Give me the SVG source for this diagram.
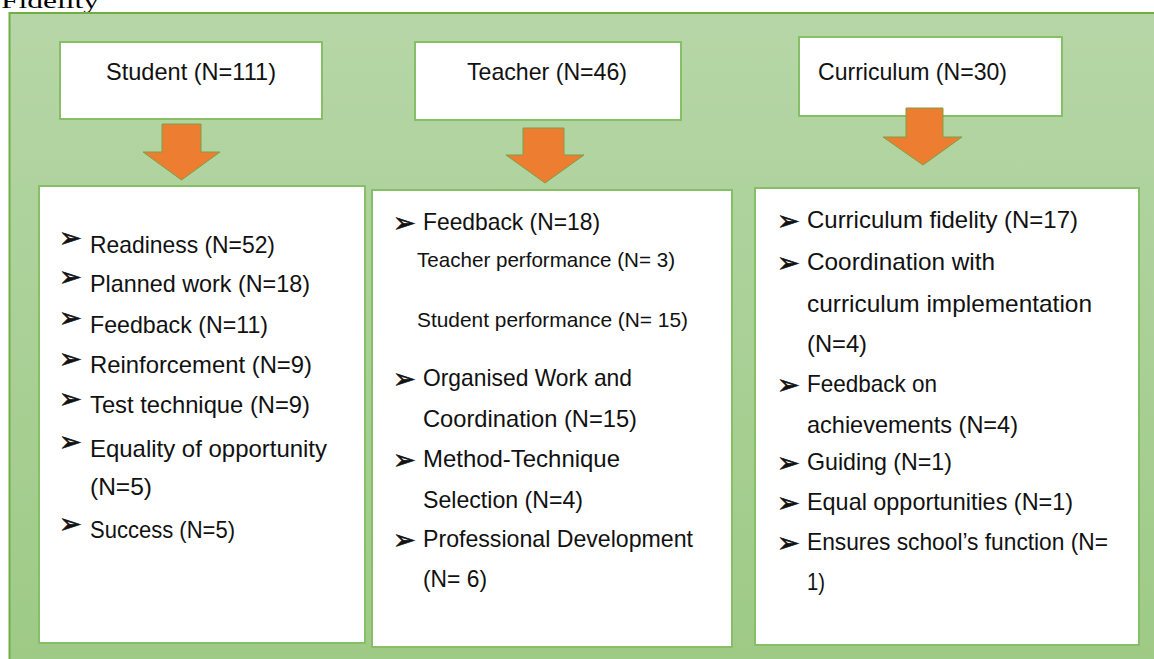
<svg xmlns="http://www.w3.org/2000/svg" width="1154" height="659" viewBox="0 0 1154 659">
<defs>
<linearGradient id="bg" x1="0" y1="0" x2="0" y2="1">
<stop offset="0" stop-color="#b6d6a7"/>
<stop offset="1" stop-color="#9dca85"/>
</linearGradient>
<style>
.box{fill:#ffffff;stroke:#86bf65;stroke-width:2}
.t{font-family:"Liberation Sans",Arial,sans-serif;font-size:24px;fill:#111111}
.s{font-family:"Liberation Sans",Arial,sans-serif;font-size:21px;fill:#111111}
.b{font-family:"DejaVu Sans",sans-serif;font-size:27px;fill:#111111;stroke:#111111;stroke-width:0.7}
.arrow{fill:#ed7d31;stroke:#7f9f45;stroke-width:1}
</style>
</defs>
<rect width="1154" height="659" fill="#ffffff"/>
<text x="1" y="8" font-family="Liberation Serif, 'Times New Roman', serif" font-size="22" fill="#000" textLength="98" lengthAdjust="spacingAndGlyphs">Fidelity</text>
<rect x="9.5" y="13" width="1160" height="660" fill="url(#bg)" stroke="#70ad47" stroke-width="2"/>

<g id="student-header">
<rect class="box" x="60" y="42" width="262" height="77"/>
<text class="t" x="106" y="80" textLength="170" lengthAdjust="spacingAndGlyphs">Student (N=111)</text>
</g>
<g id="teacher-header">
<rect class="box" x="415" y="42" width="266" height="78"/>
<text class="t" x="467" y="80" textLength="160" lengthAdjust="spacingAndGlyphs">Teacher (N=46)</text>
</g>
<g id="curriculum-header">
<rect class="box" x="799" y="37" width="263" height="79"/>
<text class="t" x="818" y="80" textLength="189" lengthAdjust="spacingAndGlyphs">Curriculum (N=30)</text>
</g>

<g id="connectors">
<polygon class="arrow" points="162,124 201,124 201,152 220,152 181.5,180 143,152 162,152"/>
<polygon class="arrow" points="523,128 564,128 564,155 584,155 545,183 506,155 523,155"/>
<polygon class="arrow" points="906,108 943,108 943,137 962,137 923,165 883,137 906,137"/>
</g>

<g id="student-list">
<rect class="box" x="39" y="186" width="326" height="457"/>
<text class="b" x="59" y="247">➢</text>
<text class="t" x="90" y="252.5" textLength="185" lengthAdjust="spacingAndGlyphs">Readiness (N=52)</text>
<text class="b" x="59" y="286">➢</text>
<text class="t" x="90" y="291.5" textLength="220" lengthAdjust="spacingAndGlyphs">Planned work (N=18)</text>
<text class="b" x="59" y="327">➢</text>
<text class="t" x="90" y="332.5" textLength="178" lengthAdjust="spacingAndGlyphs">Feedback (N=11)</text>
<text class="b" x="59" y="368">➢</text>
<text class="t" x="90" y="373" textLength="222" lengthAdjust="spacingAndGlyphs">Reinforcement (N=9)</text>
<text class="b" x="59" y="408">➢</text>
<text class="t" x="90" y="413" textLength="220" lengthAdjust="spacingAndGlyphs">Test technique (N=9)</text>
<text class="b" x="59" y="451">➢</text>
<text class="t" x="90" y="456.5" textLength="237" lengthAdjust="spacingAndGlyphs">Equality of opportunity</text>
<text class="t" x="90" y="495" textLength="62" lengthAdjust="spacingAndGlyphs">(N=5)</text>
<text class="b" x="59" y="533">➢</text>
<text class="t" x="90" y="538" textLength="145" lengthAdjust="spacingAndGlyphs">Success (N=5)</text>
</g>

<g id="teacher-list">
<rect class="box" x="372" y="190" width="360" height="457"/>
<text class="b" x="393" y="232">➢</text>
<text class="t" x="423" y="230" textLength="177" lengthAdjust="spacingAndGlyphs">Feedback (N=18)</text>
<text class="s" x="417" y="267" textLength="258" lengthAdjust="spacingAndGlyphs">Teacher performance (N= 3)</text>
<text class="s" x="417" y="327" textLength="271" lengthAdjust="spacingAndGlyphs">Student performance (N= 15)</text>
<text class="b" x="393" y="388">➢</text>
<text class="t" x="423" y="386" textLength="209" lengthAdjust="spacingAndGlyphs">Organised Work and</text>
<text class="t" x="423" y="427" textLength="214" lengthAdjust="spacingAndGlyphs">Coordination (N=15)</text>
<text class="b" x="393" y="469">➢</text>
<text class="t" x="423" y="467" textLength="197" lengthAdjust="spacingAndGlyphs">Method-Technique</text>
<text class="t" x="423" y="508" textLength="160" lengthAdjust="spacingAndGlyphs">Selection (N=4)</text>
<text class="b" x="393" y="549">➢</text>
<text class="t" x="423" y="547" textLength="270" lengthAdjust="spacingAndGlyphs">Professional Development</text>
<text class="t" x="423" y="587" textLength="64" lengthAdjust="spacingAndGlyphs">(N= 6)</text>
</g>

<g id="curriculum-list">
<rect class="box" x="755" y="188" width="384" height="457"/>
<text class="b" x="777" y="230">➢</text>
<text class="t" x="807" y="228" textLength="271" lengthAdjust="spacingAndGlyphs">Curriculum fidelity (N=17)</text>
<text class="b" x="777" y="272">➢</text>
<text class="t" x="807" y="270" textLength="188" lengthAdjust="spacingAndGlyphs">Coordination with</text>
<text class="t" x="807" y="312" textLength="285" lengthAdjust="spacingAndGlyphs">curriculum implementation</text>
<text class="t" x="807" y="352" textLength="60" lengthAdjust="spacingAndGlyphs">(N=4)</text>
<text class="b" x="777" y="394">➢</text>
<text class="t" x="807" y="392" textLength="130" lengthAdjust="spacingAndGlyphs">Feedback on</text>
<text class="t" x="807" y="433" textLength="211" lengthAdjust="spacingAndGlyphs">achievements (N=4)</text>
<text class="b" x="777" y="472">➢</text>
<text class="t" x="807" y="470" textLength="145" lengthAdjust="spacingAndGlyphs">Guiding (N=1)</text>
<text class="b" x="777" y="512">➢</text>
<text class="t" x="807" y="510" textLength="266" lengthAdjust="spacingAndGlyphs">Equal opportunities (N=1)</text>
<text class="b" x="777" y="552">➢</text>
<text class="t" x="807" y="550" textLength="301" lengthAdjust="spacingAndGlyphs">Ensures school’s function (N=</text>
<text class="t" x="807" y="590" textLength="18" lengthAdjust="spacingAndGlyphs">1)</text>
</g>
</svg>
